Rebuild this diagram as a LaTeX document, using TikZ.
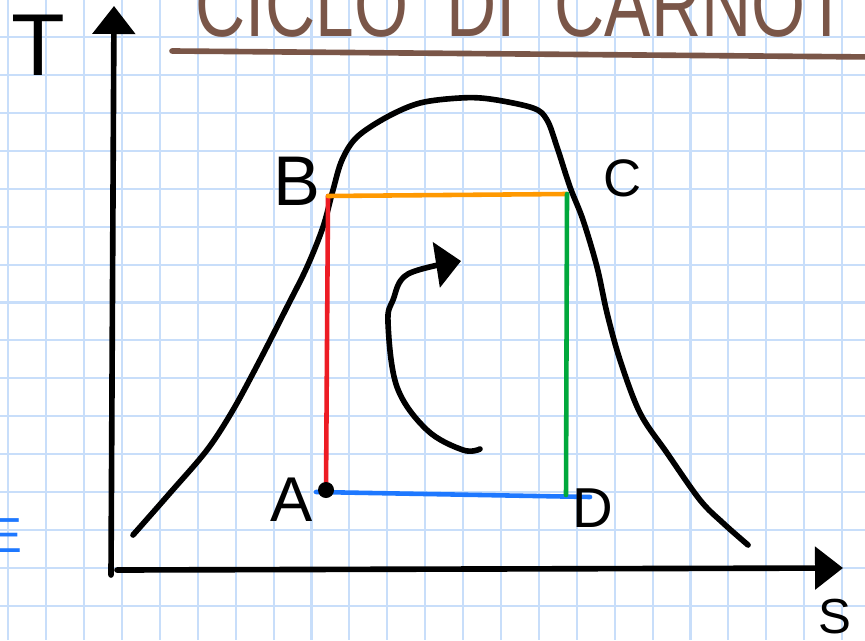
\documentclass[tikz,border=0pt]{standalone}
\usepackage{fontspec}
\setmainfont{Liberation Sans}
\usepackage{graphicx}
\usetikzlibrary{arrows.meta}
\definecolor{gridblue}{RGB}{200,222,250}
\definecolor{titlebrown}{RGB}{122,86,72}
\definecolor{isored}{RGB}{237,28,36}
\definecolor{isoorange}{RGB}{255,153,0}
\definecolor{isogreen}{RGB}{0,168,60}
\definecolor{isoblue}{RGB}{30,120,255}

\begin{document}
\begin{tikzpicture}[x=0.01cm,y=-0.01cm]
  \tikzset{
    gridline/.style={draw=gridblue,line width=0.6pt},
    ink/.style={draw=black,line width=1.6pt,line cap=round,line join=round},
    axis/.style={ink,-{Triangle[length=2.8mm,width=4.2mm]}},
    side/.style={line width=1.3pt,line cap=round},
    lbl/.style={inner sep=0pt,font=\fontsize{#1}{#1}\selectfont},
    lbl/.default=18,
  }
  \useasboundingbox (0,0) rectangle (865,640);
  \clip (0,0) rectangle (865,640);
  \fill[white] (0,0) rectangle (865,640);
  % grid paper
  \foreach \i in {0,...,22} \draw[gridline] ({8.3+37.9*\i},0) -- ++(0,640);
  \foreach \j in {0,...,16} \draw[gridline] (0,{-0.7+37.9*\j}) -- ++(865,0);

  % title, cut at the top edge
  \node[lbl=26,text=titlebrown,anchor=base] (title) at (522,37)
    {\scalebox{0.76}[1]{CICLO\ \ DI\ \ CARNOT}};
  \coordinate (u1) at (172,51); \coordinate (u2) at (872,57);
  \draw[titlebrown,line width=1.6pt,line cap=round] (u1) -- (u2);

  % axes
  \coordinate (Tbot) at (111,575); \coordinate (Ttip) at (114,6);
  \coordinate (Sbeg) at (117,570); \coordinate (Stip) at (843,568);
  \draw[axis] (Tbot) -- (Ttip);
  \draw[axis] (Sbeg) -- (Stip);
  \node[lbl=25] (T) at (38,45) {T};
  \node[lbl=14] (S) at (835,617) {S};

  % saturation dome
  \draw[ink] plot[smooth,tension=0.55] coordinates {
    (133,535) (170,493) (207,450) (233,410) (260,360) (287,307) (307,267)
    (323,227) (333,190) (342,160) (357,137) (387,117) (420,103) (460,98)
    (490,99) (533,108) (547,120) (557,147) (570,187) (583,220) (597,267)
    (607,313) (620,360) (640,413) (667,453) (700,500) (723,523) (748,545)};

  % cycle
  \coordinate (A) at (326,490); \coordinate (B) at (328,196);
  \coordinate (C) at (567,194); \coordinate (D) at (566,495);
  \coordinate (A0) at (316,492); \coordinate (D0) at (590,497);
  \draw[side,isoblue] (A0) -- (D0);
  \draw[side,isored] (A) -- (B);
  \draw[side,isoorange] (B) -- (C);
  \draw[side,isogreen] (C) -- (D);
  \fill (A) circle[radius=8];
  \node[lbl=18] (lA) at (292,500) {A};
  \node[lbl=20] (lB) at (297,181) {B};
  \node[lbl=15] (lC) at (623,178) {C};
  \node[lbl=16] (lD) at (593,508) {D};

  % sense of the cycle
  \draw[ink,-{Triangle[length=2.5mm,width=4.5mm]}] plot[smooth,tension=0.6] coordinates {
    (480,449) (463,450) (427,430) (397,387) (388,323) (393,300) (408,274) (461,261)};

  % blue letter cut at the left edge
  \node[lbl=14,text=isoblue] (E) at (6,536) {E};
\end{tikzpicture}
\end{document}
